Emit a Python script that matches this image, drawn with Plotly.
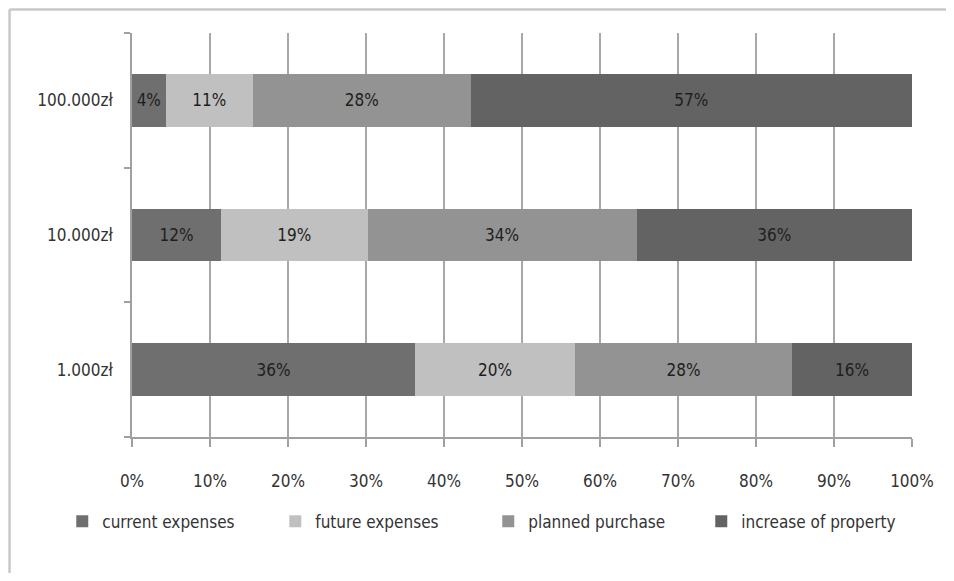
import plotly.graph_objects as go

categories = ["1.000zł", "10.000zł", "100.000zł"]
series_names = ["current expenses", "future expenses", "planned purchase", "increase of property"]
current_expenses = [36.3, 11.4, 4.3]
future_expenses = [20.5, 18.8, 11.2]
planned_purchase = [27.8, 34.5, 27.9]
increase_of_property = [15.4, 35.3, 56.6]
label_current = ["36%", "12%", "4%"]
label_future = ["20%", "19%", "11%"]
label_planned = ["28%", "34%", "28%"]
label_increase = ["16%", "36%", "57%"]
tick_vals = [0, 10, 20, 30, 40, 50, 60, 70, 80, 90, 100]
tick_text = ["0%", "10%", "20%", "30%", "40%", "50%", "60%", "70%", "80%", "90%", "100%"]

colors = ["#6f6f6f", "#c0c0c0", "#939393", "#636363"]
values = [current_expenses, future_expenses, planned_purchase, increase_of_property]
labels = [label_current, label_future, label_planned, label_increase]

FONT = "Liberation Sans Narrow, Arial Narrow, DejaVu Sans Condensed, sans-serif"

fig = go.Figure()
for name, vals, lab, col in zip(series_names, values, labels, colors):
    fig.add_trace(go.Bar(
        y=categories, x=vals, orientation="h", name=name,
        marker=dict(color=col, line=dict(width=0)),
        text=lab, textposition="inside", insidetextanchor="middle",
        textangle=0, constraintext="none",
        textfont=dict(family=FONT, size=17, color="#1e1e1e"),
        hoverinfo="skip",
    ))

frame = dict(color="#c8c8c8", width=2.5)
fig.update_layout(
    barmode="stack",
    bargap=0.61,
    width=938, height=565,
    margin=dict(l=124, r=31, t=25, b=136),
    paper_bgcolor="white", plot_bgcolor="white",
    font=dict(family=FONT, size=17, color="#333333"),
    showlegend=True,
    legend=dict(
        orientation="h", x=-0.0894, xanchor="left", y=-0.165, yanchor="top",
        traceorder="normal", font=dict(family=FONT, size=17, color="#333333"),
        entrywidth=168, entrywidthmode="pixels", itemwidth=30,
    ),
    xaxis=dict(
        range=[0, 100], tickvals=tick_vals, ticktext=tick_text,
        showgrid=True, gridcolor="#a8a8a8", gridwidth=1.5,
        showline=True, linecolor="#a0a0a0", linewidth=1.5,
        ticks="outside", ticklen=8, tickcolor="#a0a0a0", tickwidth=1.5,
        ticklabelstandoff=20, zeroline=False,
        tickfont=dict(family=FONT, size=17, color="#333333"),
        fixedrange=True,
    ),
    yaxis=dict(
        categoryorder="array", categoryarray=categories,
        showline=True, linecolor="#a0a0a0", linewidth=1.5,
        ticks="outside", tickson="boundaries", ticklen=6,
        tickcolor="#a0a0a0", tickwidth=1.5, showgrid=False,
        ticklabelstandoff=14,
        tickfont=dict(family=FONT, size=17, color="#333333"),
        fixedrange=True,
    ),
    shapes=[
        dict(type="line", xref="paper", yref="paper",
             x0=-0.157, x1=-0.157, y0=-0.4, y1=1.058, line=frame, layer="below"),
        dict(type="line", xref="paper", yref="paper",
             x0=-0.157, x1=1.3, y0=1.058, y1=1.058, line=frame, layer="below"),
    ],
)

fig.write_html("out.html")
